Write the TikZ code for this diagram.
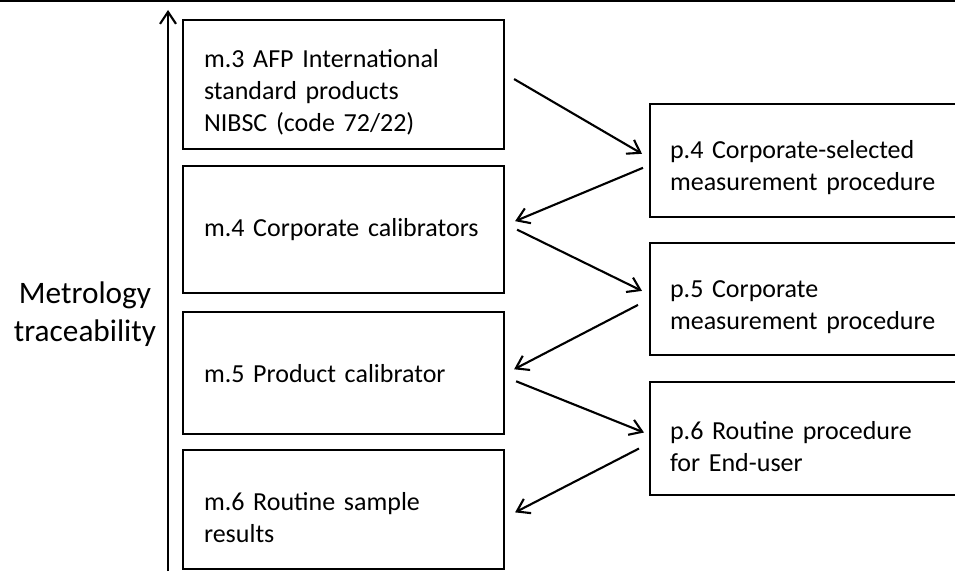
\documentclass[tikz,border=0pt]{standalone}
\usepackage{fontspec}
\setmainfont{Carlito}
\usepackage{xcolor}
\usepackage{tikz}
\usetikzlibrary{arrows.meta,positioning}

\begin{document}
\begin{tikzpicture}[
    boxtext/.style={font=\fontsize{14.8}{18.2}\selectfont},
    mbox/.style={rectangle, draw, line width=1.2pt, boxtext, align=left,
        text width=5.58cm, inner xsep=0.42cm},
    pbox/.style={rectangle, draw, line width=1.2pt, boxtext, align=left,
        text width=5.5cm, inner xsep=0.4cm, minimum height=2.25cm},
    lowered/.style={execute at begin node={\rule{0pt}{0.67cm}}},
    link/.style={line width=1.2pt, -{Straight Barb[length=2.4mm,width=3.2mm]}}
]
    \useasboundingbox (0,0) rectangle (19.1,11.42);
    \clip (0,0) rectangle (19.1,11.42);

    % rule across the top
    \draw [line width=1.1pt] (0,11.40) -- (19.1,11.40);

    % traceability axis
    \coordinate (axisbot) at (3.36,0);
    \coordinate (axistop) at (3.36,11.22);
    \draw [link] (axisbot) -- (axistop);
    \node (trace) [align=center, font=\fontsize{17.8}{22}\selectfont] at (1.7,5.14) {Metrology\\traceability};

    % materials column
    \node (m3) [mbox, lowered, anchor=north west, minimum height=2.58cm] at (3.64,11.04) {m.3 AFP International\\standard products\\NIBSC (code 72/22)};
    \node (m4) [mbox, below=0.3cm of m3, minimum height=2.54cm] {m.4 Corporate calibrators};
    \node (m5) [mbox, below=0.34cm of m4, minimum height=2.44cm] {m.5 Product calibrator};
    \node (m6) [mbox, lowered, below=0.28cm of m5, minimum height=2.38cm] {m.6 Routine sample\\results};

    % procedures column
    \node (p4) [pbox, lowered, anchor=north west] at (12.98,9.36) {p.4 Corporate-selected\\measurement procedure};
    \node (p5) [pbox, lowered, below=0.48cm of p4] {p.5 Corporate\\measurement procedure};
    \node (p6) [pbox, lowered, below=0.5cm of p5] {p.6 Routine procedure\\for End-user};

    \draw [link] ([shift={(0.18,0.11)}]m3.east) -- ([shift={(-0.14,0.13)}]p4.west);
    \draw [link] ([shift={(-0.12,-0.15)}]p4.west) -- ([shift={(0.2,0.17)}]m4.east);
    \draw [link] ([shift={(0.24,0)}]m4.east) -- ([shift={(-0.14,0.16)}]p5.west);
    \draw [link] ([shift={(-0.22,-0.12)}]p5.west) -- ([shift={(0.18,0.08)}]m5.east);
    \draw [link] ([shift={(0.22,-0.16)}]m5.east) -- ([shift={(-0.1,0.12)}]p6.west);
    \draw [link] ([shift={(-0.2,-0.2)}]p6.west) -- ([shift={(0.2,-0.05)}]m6.east);
\end{tikzpicture}
\end{document}
